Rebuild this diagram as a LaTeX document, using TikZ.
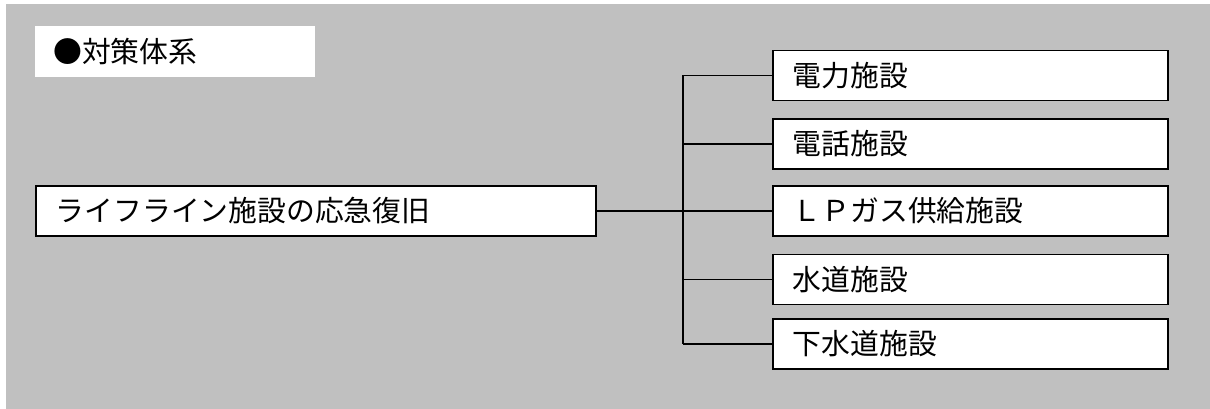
\documentclass[tikz,border=0pt]{standalone}
\usepackage{fontspec}
\setmainfont{Noto Sans CJK JP}
\usetikzlibrary{positioning}
\definecolor{panelgray}{HTML}{C0C0C0}

\begin{document}
\begin{tikzpicture}[font=\fontsize{20.5pt}{24pt}\selectfont,
  itembox/.style={draw=black, line width=1.1pt, fill=white, anchor=west,
    minimum height=1.25cm, inner xsep=0.5cm, text width=8.875cm, align=left},
  link/.style={black, line width=1.2pt}]
  \useasboundingbox (0,0) rectangle (30.25,10.225);

  % Gray panel behind everything
  \fill[panelgray] (0.15,0) rectangle (30.25,10.125);

  % Heading label
  \node[fill=white, anchor=west, minimum height=1.275cm, inner xsep=0.45cm,
    text width=6.1cm, align=left] (title) at (0.875,8.9375) {●対策体系};

  % Root item
  \node[itembox, text width=13cm] (main) at (0.875,4.95)
    {ライフライン施設の応急復旧};

  % Facility items
  \node[itembox] (power) at (19.3,8.3375) {電力施設};
  \node[itembox] (phone) at (19.3,6.625) {電話施設};
  \node[itembox] (gas)   at (19.3,4.95) {ＬＰガス供給施設};
  \node[itembox] (water) at (19.3,3.2375) {水道施設};
  \node[itembox] (sewer) at (19.3,1.625) {下水道施設};

  % Tree connectors
  \coordinate (trunk) at (17.075,4.95);
  \draw[link] (main.east) -- (gas.west);
  \draw[link] (trunk |- power.west) -- (trunk |- sewer.west);
  \draw[link] (trunk |- power.west) -- (power.west);
  \draw[link] (trunk |- phone.west) -- (phone.west);
  \draw[link] (trunk |- water.west) -- (water.west);
  \draw[link] (trunk |- sewer.west) -- (sewer.west);
\end{tikzpicture}
\end{document}
